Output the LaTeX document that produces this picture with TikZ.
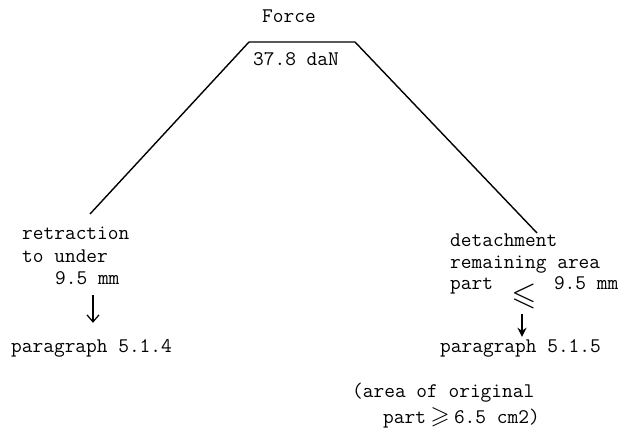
\documentclass[tikz,border=0pt]{standalone}
\usepackage{amssymb}
\usetikzlibrary{arrows.meta}
\begin{document}
\begin{tikzpicture}[x=1pt,y=-1pt,
  txt/.style={anchor=base west,inner sep=0pt,font=\ttfamily\fontsize{20.8}{22}\selectfont,text height=13pt,text depth=4pt},
  ctxt/.style={txt,anchor=base},
  ln/.style={line width=1.4pt},
  arrL/.style={line width=1.4pt,-{Straight Barb[length=7pt,width=12pt,line width=1.2pt]}},
  arrR/.style={line width=1.6pt,-{Stealth[length=9pt,width=9pt]}}]
\useasboundingbox (0,0) rectangle (630,446);
% top
\node[ctxt] (force) at (289,23) {Force};
\node[ctxt] (val) at (296,66) {37.8 daN};
\coordinate (tl) at (249,42);
\coordinate (tr) at (355,42);
\coordinate (lend) at (90,214);
\coordinate (rend) at (537,233);
\draw[ln] (lend) -- (tl) -- (tr) -- (rend);
% left
\node[txt] (l1) at (22,240) {retraction};
\node[txt] (l2) at (22,262.5) {to under};
\node[txt] (l3) at (55,285) {9.5 mm};
\node[txt] (p1) at (11,353) {paragraph 5.1.4};
\coordinate (la) at (93,0);
\draw[arrL,shorten <=6pt,shorten >=17pt] (la |- l3.south) -- (la |- p1.north);
% right
\node[txt] (r1) at (450,247) {detachment};
\node[txt] (r2) at (450,268.5) {remaining area};
\node[txt] (r3) at (450,290) {part\hspace{61pt}9.5 mm};
\node[inner sep=0pt,font=\fontsize{20.8}{22}\selectfont] (leq) at (524,296) {\scalebox{1.55}{$\leqslant$}};
\node[txt] (p2) at (440,353) {paragraph 5.1.5};
\coordinate (ra) at (522,0);
\draw[arrR,shorten <=5pt,shorten >=3pt] (ra |- leq.south) -- (ra |- p2.north);
% bottom
\node[txt] (b1) at (352,398) {(area of original};
\node[txt,text height=10pt] (b2) at (383,424) {part\makebox[28pt]{\scalebox{1.2}{$\geqslant$}}6.5 cm2)};
\end{tikzpicture}
\end{document}
